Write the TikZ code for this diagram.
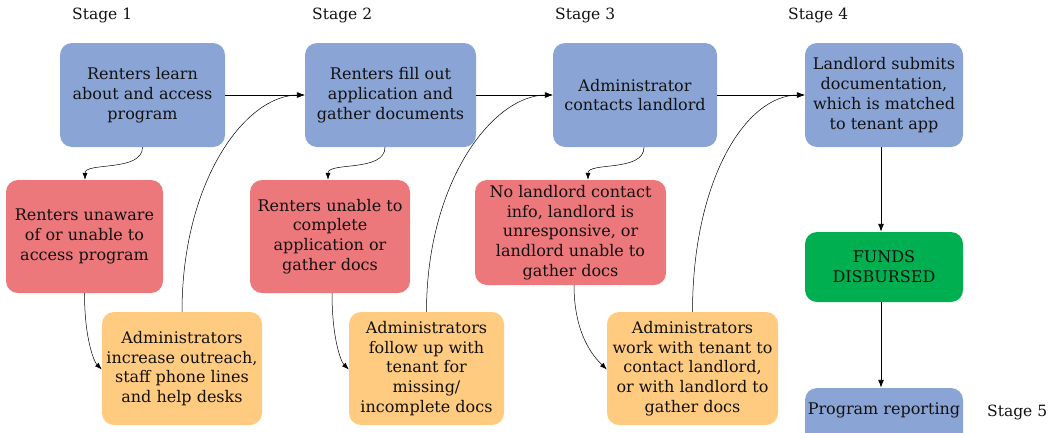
\documentclass[tikz,border=0pt]{standalone}
\usepackage{fontspec}
\setmainfont{DejaVu Serif}
\usetikzlibrary{arrows.meta}
\definecolor{cblue}{HTML}{8AA5D5}
\definecolor{cred}{HTML}{EC787C}
\definecolor{cyellow}{HTML}{FFCB80}
\definecolor{cgreen}{HTML}{00B050}
\definecolor{ctext}{HTML}{111111}
\begin{document}
\begin{tikzpicture}[x=1pt,y=-1pt,
  box/.style={rounded corners=12pt, align=center, inner sep=0pt,
    font=\fontsize{16}{19.8}\selectfont, text=ctext},
  bluebox/.style={box, fill=cblue},
  redbox/.style={box, fill=cred},
  yellowbox/.style={box, fill=cyellow},
  greenbox/.style={box, fill=cgreen},
  stagelbl/.style={font=\fontsize{15.5}{19}\selectfont, text=ctext, inner sep=0pt},
  mainarrow/.style={draw=black, line width=0.9pt, -{Latex[length=8pt,width=6pt]}},
  thinarrow/.style={draw=black, line width=0.5pt, -{Latex[length=7pt,width=5pt]}}
]
\useasboundingbox (0,0) rectangle (1054,432);
\begin{scope}
\clip (0,0) rectangle (1054,432);
% stage labels
\node[stagelbl, anchor=west] (s1) at (72,15) {Stage 1};
\node[stagelbl, anchor=west] (s2) at (312,15) {Stage 2};
\node[stagelbl, anchor=west] (s3) at (555,15) {Stage 3};
\node[stagelbl, anchor=west] (s4) at (788,15) {Stage 4};
\node[stagelbl, anchor=west] (s5) at (987,412) {Stage 5};
% blue boxes
\node[bluebox, minimum width=165pt, minimum height=104pt] (b1) at (142.5,95) {Renters learn\\about and access\\program};
\node[bluebox, minimum width=171pt, minimum height=104pt] (b2) at (390.5,95) {Renters fill out\\application and\\gather documents};
\node[bluebox, minimum width=164pt, minimum height=104pt] (b3) at (635,95) {Administrator\\contacts landlord};
\node[bluebox, minimum width=158pt, minimum height=104pt] (b4) at (884,95) {Landlord submits\\documentation,\\which is matched\\to tenant app};
\node[greenbox, minimum width=158pt, minimum height=70pt] (f) at (884,267) {FUNDS\\DISBURSED};
\node[bluebox, minimum width=158pt, minimum height=70pt] (pr) at (884,423) {};
\node[font=\fontsize{16}{19.8}\selectfont, text=ctext, inner sep=0pt] (prt) at (884,410) {Program reporting};
% red boxes
\node[redbox, minimum width=157pt, minimum height=113pt] (r1) at (84.5,236.5) {Renters unaware\\of or unable to\\access program};
\node[redbox, minimum width=160pt, minimum height=113pt] (r2) at (330,236.5) {Renters unable to\\complete\\application or\\gather docs};
\node[redbox, minimum width=191pt, minimum height=105pt] (r3) at (570.5,232.5) {No landlord contact\\info, landlord is\\unresponsive, or\\landlord unable to\\gather docs};
% yellow boxes
\node[yellowbox, minimum width=160pt, minimum height=113pt] (y1) at (182,368.5) {Administrators\\increase outreach,\\staff phone lines\\and help desks};
\node[yellowbox, minimum width=155pt, minimum height=113pt] (y2) at (426.5,368.5) {Administrators\\follow up with\\tenant for\\missing/\\incomplete docs};
\node[yellowbox, minimum width=171pt, minimum height=113pt] (y3) at (692.5,368.5) {Administrators\\work with tenant to\\contact landlord,\\or with landlord to\\gather docs};
% main arrows
\draw[mainarrow] (b1.east) -- (b2.west);
\draw[mainarrow] (b2.east) -- (b3.west);
\draw[mainarrow] (b3.east) -- (b4.west);
\draw[mainarrow] ([xshift=-3pt]b4.south) -- ([xshift=-3pt]f.north);
\draw[mainarrow] ([xshift=-3pt]f.south) -- ([xshift=-3pt]pr.north);
% stage 1 curves
\draw[thinarrow] (b1.south) .. controls +(0,25) and +(0,-18) .. ([xshift=0.5pt]r1.north);
\draw[thinarrow] (r1.south) .. controls +(0,45) and +(-8,-8) .. ([yshift=-1pt]y1.west);
\draw[thinarrow] (y1.north) .. controls +(0,-130) and +(-60,0) .. (b2.west);
% stage 2 curves
\draw[thinarrow] ([xshift=-5.5pt]b2.south) .. controls +(0,25) and +(0,-18) .. ([xshift=-2pt]r2.north);
\draw[thinarrow] ([xshift=2pt]r2.south) .. controls +(0,45) and +(-8,-8) .. ([yshift=-1pt]y2.west);
\draw[thinarrow] (y2.north) .. controls +(0,-130) and +(-60,0) .. (b3.west);
% stage 3 curves
\draw[thinarrow] ([xshift=9pt]b3.south) .. controls +(0,25) and +(0,-18) .. ([xshift=17.5pt]r3.north);
\draw[thinarrow] ([xshift=3.5pt]r3.south) .. controls +(0,55) and +(-8,-8) .. ([yshift=-1pt]y3.west);
\draw[thinarrow] (y3.north) .. controls +(0,-130) and +(-60,0) .. (b4.west);
\end{scope}
\end{tikzpicture}
\end{document}
